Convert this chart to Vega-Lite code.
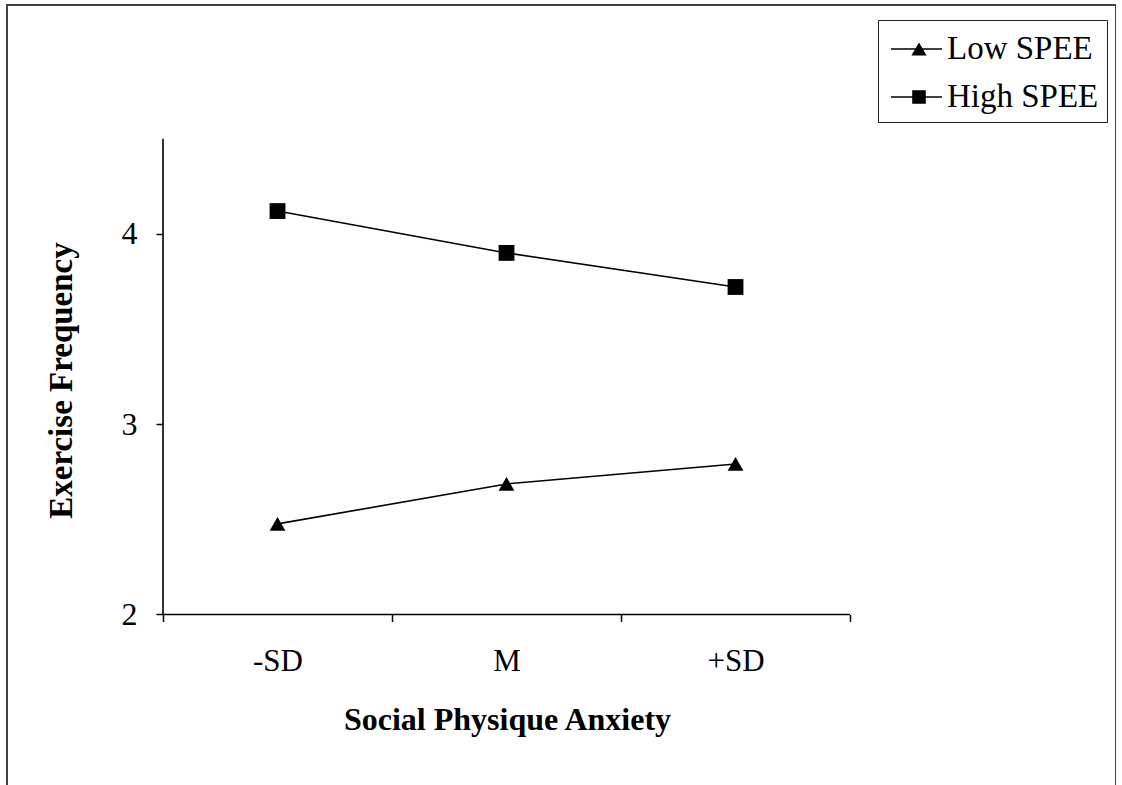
{
  "$schema": "https://vega.github.io/schema/vega-lite/v6.json",
  "width": 1109,
  "height": 782,
  "autosize": {"type": "none"},
  "padding": {"top": 5, "left": 7, "right": 0, "bottom": 0},
  "background": "white",
  "config": {
    "view": {"stroke": "#404040", "strokeWidth": 2},
    "font": "Liberation Serif"
  },
  "data": {
    "values": [
      {"spa": "-SD", "group": "Low SPEE", "freq": 2.476},
      {"spa": "M", "group": "Low SPEE", "freq": 2.686},
      {"spa": "+SD", "group": "Low SPEE", "freq": 2.791},
      {"spa": "-SD", "group": "High SPEE", "freq": 4.12},
      {"spa": "M", "group": "High SPEE", "freq": 3.9},
      {"spa": "+SD", "group": "High SPEE", "freq": 3.721}
    ]
  },
  "resolve": {"scale": {"shape": "independent"}, "legend": {"shape": "independent"}},
  "layer": [
    {
      "mark": {"type": "line", "color": "black", "strokeWidth": 1.6},
      "encoding": {
        "x": {
          "field": "spa",
          "type": "nominal",
          "sort": ["-SD", "M", "+SD"],
          "scale": {"type": "band", "domain": ["-SD", "M", "+SD"], "paddingInner": 0, "paddingOuter": 0.9214, "align": 0.3697},
          "axis": {
            "title": "Social Physique Anxiety",
            "tickBand": "extent",
            "domain": false,
            "grid": false,
            "offset": -172.5,
            "orient": "bottom",
            "labelAngle": 0,
            "tickSize": 7,
            "tickWidth": 1.5,
            "tickColor": "black",
            "labelPadding": 25,
            "labelFont": "Liberation Serif",
            "labelFontSize": 31,
            "labelColor": "black",
            "titleFont": "Liberation Serif",
            "titleFontSize": 32,
            "titleFontWeight": "bold",
            "titleColor": "black",
            "titleX": 500,
            "titleY": 115,
            "titleBaseline": "alphabetic",
            "titleAlign": "center"
          }
        },
        "y": {
          "field": "freq",
          "type": "quantitative",
          "scale": {"domain": [1.0935, 5.2028], "nice": false, "zero": false},
          "axis": {
            "title": "Exercise Frequency",
            "values": [2, 3, 4],
            "format": "d",
            "domain": false,
            "grid": false,
            "offset": -156,
            "tickSize": 7,
            "tickWidth": 1.5,
            "tickColor": "black",
            "labelPadding": 19,
            "labelFont": "Liberation Serif",
            "labelFontSize": 32,
            "labelColor": "black",
            "titleFont": "Liberation Serif",
            "titleFontSize": 33,
            "titleFontWeight": "bold",
            "titleColor": "black",
            "titleX": -92,
            "titleY": 375,
            "titleAngle": -90,
            "titleBaseline": "alphabetic",
            "titleAlign": "center"
          }
        },
        "detail": {"field": "group"}
      }
    },
    {
      "data": {"values": [{}]},
      "mark": {"type": "rule", "color": "black", "strokeWidth": 1.6},
      "encoding": {
        "x": {"datum": "-SD", "type": "nominal", "bandPosition": 0},
        "y": {"datum": 2, "type": "quantitative"},
        "y2": {"datum": 4.5}
      }
    },
    {
      "data": {"values": [{}]},
      "mark": {"type": "rule", "color": "black", "strokeWidth": 1.6},
      "encoding": {
        "x": {"datum": "-SD", "type": "nominal", "bandPosition": 0},
        "x2": {"datum": "+SD", "bandPosition": 1},
        "y": {"datum": 2, "type": "quantitative"}
      }
    },
    {
      "mark": {"type": "point", "filled": true, "opacity": 1, "color": "black", "size": 250},
      "encoding": {
        "x": {"field": "spa", "type": "nominal"},
        "y": {"field": "freq", "type": "quantitative"},
        "shape": {
          "field": "group",
          "type": "nominal",
          "scale": {"range": ["square", "triangle-up"]},
          "legend": null
        }
      }
    },
    {
      "transform": [{"filter": "datum.freq < 0"}],
      "mark": {"type": "point", "filled": true, "color": "black", "fill": "black", "stroke": "black", "strokeWidth": 1.5, "opacity": 1},
      "encoding": {
        "x": {"field": "spa", "type": "nominal"},
        "y": {"field": "freq", "type": "quantitative"},
        "shape": {
          "field": "group",
          "type": "nominal",
          "scale": {
            "domain": ["Low SPEE", "High SPEE"],
            "range": ["M-0.8,-0.04H1.75V0.04H-0.8ZM0.22,0.32L0.6,-0.32L0.98,0.32Z", "M-0.8,-0.04H1.75V0.04H-0.8ZM0.26,-0.34H0.94V0.34H0.26Z"]
          },
          "legend": {
            "title": null,
            "orient": "none",
            "legendX": 871,
            "legendY": 15,
            "strokeColor": "#202020",
            "fillColor": "white",
            "padding": 8,
            "symbolSize": 1600,
            "symbolOpacity": 1,
            "symbolFillColor": "black",
            "symbolStrokeColor": "black",
            "symbolStrokeWidth": 1.5,
            "rowPadding": 10,
            "labelOffset": 19,
            "labelFont": "Liberation Serif",
            "labelFontSize": 33,
            "labelColor": "black"
          }
        }
      }
    }
  ]
}
